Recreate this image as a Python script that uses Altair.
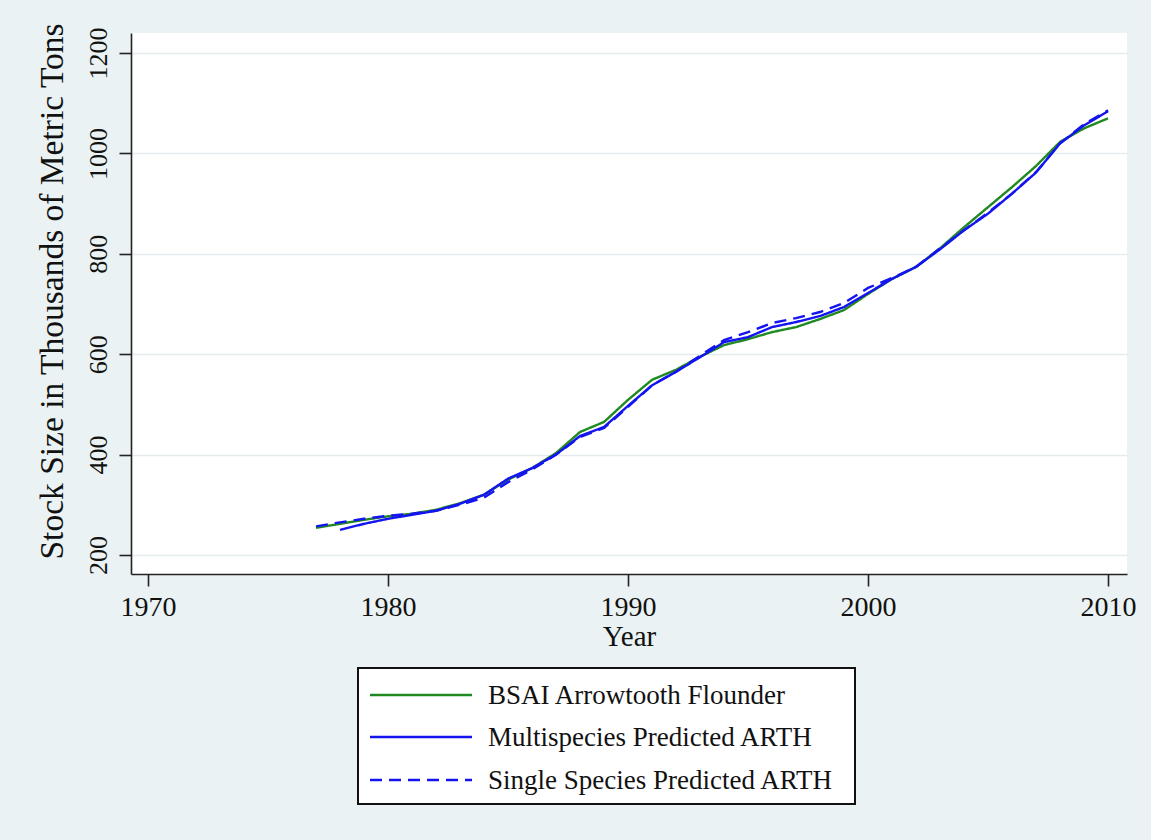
import altair as alt
import pandas as pd

# Stock size estimates, thousands of metric tons
years_obs = list(range(1977, 2011))
bsai_arth = [254, 262, 270, 277, 282, 290, 303, 320, 350, 373, 403, 445, 465, 509,
             549, 569, 595, 618, 630, 644, 654, 670, 688, 720, 750, 774, 811, 853,
             893, 933, 975, 1023, 1050, 1070]

years_multi = list(range(1978, 2011))
multi_pred = [250, 262, 272, 280, 288, 302, 320, 352, 373, 400, 437, 455, 497, 538,
              565, 594, 624, 634, 654, 664, 676, 694, 722, 750, 774, 809, 847, 880,
              920, 962, 1020, 1056, 1084]

years_single = list(range(1977, 2011))
single_pred = [257, 265, 272, 278, 282, 288, 300, 314, 345, 370, 400, 435, 453, 495,
               538, 565, 597, 628, 644, 662, 672, 684, 702, 732, 752, 774, 811, 847,
               882, 920, 963, 1020, 1058, 1086]

series_names = ["BSAI Arrowtooth Flounder",
                "Multispecies Predicted ARTH",
                "Single Species Predicted ARTH"]
series_colors = ["#208A20", "#1414F0", "#1414F0"]
series_dash = [[1, 0], [1, 0], [12, 7]]

x_ticks = [1970, 1980, 1990, 2000, 2010]
y_ticks = [200, 400, 600, 800, 1000, 1200]

frames = []
for name, yrs, vals in zip(series_names,
                           [years_obs, years_multi, years_single],
                           [bsai_arth, multi_pred, single_pred]):
    frames.append(pd.DataFrame({"year": yrs, "value": vals, "series": name}))
df = pd.concat(frames, ignore_index=True)

SERIF = "Liberation Serif"
BG = "#EAF2F3"
INK = "#111111"

lines = alt.Chart(df).mark_line(strokeWidth=2.4).encode(
    x=alt.X("year:Q",
            scale=alt.Scale(domain=[1969.29, 2010.79], nice=False, zero=False),
            axis=alt.Axis(values=x_ticks, format="d", title="Year", grid=False,
                          labelFontSize=28, labelPadding=7,
                          titleFontSize=29, titleBaseline="alphabetic",
                          titleY=71)),
    y=alt.Y("value:Q",
            scale=alt.Scale(domain=[162, 1240], nice=False, zero=False),
            axis=alt.Axis(values=y_ticks, format="d",
                          title="Stock Size in Thousands of Metric Tons",
                          grid=True, gridColor="#E4EBED", gridWidth=1.5,
                          labelFontSize=26, labelAngle=270, labelAlign="center",
                          labelBaseline="bottom", labelPadding=8,
                          titleFontSize=33.5, titleAngle=270,
                          titleAlign="center", titleBaseline="alphabetic",
                          titleX=-69, titleY=258)),
    color=alt.Color("series:N", legend=None,
                    scale=alt.Scale(domain=series_names, range=series_colors)),
    strokeDash=alt.StrokeDash("series:N", legend=None,
                              scale=alt.Scale(domain=series_names, range=series_dash)),
)

# Boxed key below the plot area (pixel offsets from the plot origin)
key_box = alt.Chart(pd.DataFrame({"k": [0]})).mark_rect(
    fill="white", stroke=INK, strokeWidth=2
).encode(x=alt.value(227), x2=alt.value(724), y=alt.value(635), y2=alt.value(771))

key_layers = [key_box]
row_y = [662, 704, 747]
for name, col, dash, cy in zip(series_names, series_colors, series_dash, row_y):
    entry = alt.Chart(pd.DataFrame({"series": [name]}))
    key_layers.append(
        entry.mark_rule(color=col, strokeWidth=2.4, strokeDash=dash).encode(
            x=alt.value(239), x2=alt.value(341), y=alt.value(cy))
    )
    key_layers.append(
        entry.mark_text(align="left", baseline="middle", font=SERIF,
                        fontSize=27, color=INK).encode(
            x=alt.value(357), y=alt.value(cy + 1), text="series:N")
    )

chart = alt.layer(lines, *key_layers).properties(
    width=996, height=541, background=BG,
    autosize=alt.AutoSizeParams(type="none"),
    padding={"left": 131, "top": 33, "right": 24, "bottom": 266},
).configure_view(
    fill="white", stroke=None,
).configure_axis(
    domainColor="#222222", domainWidth=1.6,
    tickColor="#222222", tickWidth=1.6, tickSize=12,
    labelFont=SERIF, labelColor=INK,
    titleFont=SERIF, titleFontWeight="normal", titleColor=INK,
)

chart.save("out.html", embed_options={"renderer": "svg", "actions": False})
